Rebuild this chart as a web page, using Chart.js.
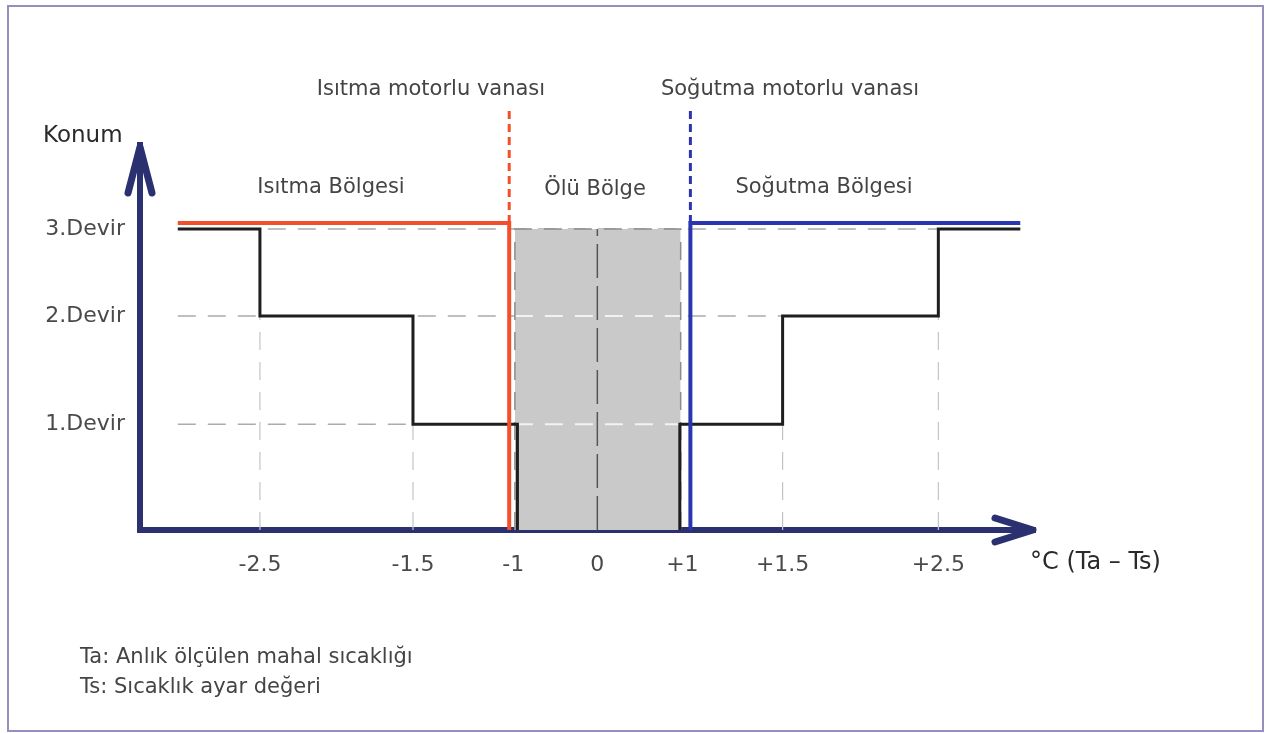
<!DOCTYPE html>
<html>
<head>
<meta charset="utf-8">
<script src="https://cdn.jsdelivr.net/npm/chart.js@4/dist/chart.umd.min.js"></script>
<style>
  html, body { margin: 0; padding: 0; background: #fff; }
  #wrap { position: relative; width: 1265px; height: 733px; }
  #frame { position: absolute; left: 7px; top: 5px; width: 1257px; height: 727px;
           box-sizing: border-box; border: 2px solid #948fbf; pointer-events: none; }
</style>
</head>
<body>
<div id="wrap">
  <canvas id="diagram" width="1265" height="733"></canvas>
  <div id="frame"></div>
</div>
<script>
// temperature axis (°C, Ta - Ts) ticks and labels
const xTicks = [-2.5, -1.5, -1, 0, 1, 1.5, 2.5];
const xTickLabels = ['-2.5', '-1.5', '-1', '0', '+1', '+1.5', '+2.5'];
// fan speed levels
const yTicks = [1, 2, 3];
const yTickLabels = ['1.Devir', '2.Devir', '3.Devir'];

// fan speed steps, heating side and cooling side
const heatStepX = [-3, -2.5, -1.5, -0.95];
const heatStepY = [3, 2, 1, 0];
const coolStepX = [0.97, 1.5, 2.5, 3];
const coolStepY = [0, 1, 2, 3];

// motorised valves (open line) and the dashed marker above them
const heatValveX = [-3, -1.02, -1.02];
const heatValveY = [3.07, 3.07, 0];
const coolValveX = [3, 1.04, 1.04];
const coolValveY = [3.07, 3.07, 0];
const valveMarkTop = 4.42;

// dead band
const deadBandX = [-0.98, 0.98];
const deadBandTop = 3;

// dashed helper lines
const gridStartX = -3;
const gridLevels = [1, 2, 3];
const gridLevelEnds = [1.5, 2.5, 3];
const gridMarksX = [-2.5, -1.5, 1.5, 2.5];
const gridMarksTop = [2, 1, 1, 2];
const zeroMarkTop = 3;

// the drawing is schematic, the axes are not to scale:
// each axis maps values to a fraction of its length through a small table
const axisStops = {
  x: { values: [-3.23, -2.5, -1.5, -1, 0, 1, 1.5, 2.5, 3.09],
       at: [0, 0.134, 0.305, 0.417, 0.511, 0.606, 0.718, 0.892, 1] },
  y: { values: [0, 1, 2, 3, 4],
       at: [0, 0.275, 0.556, 0.782, 1] }
};

function lerpTable(v, from, to) {
  let i = 1;
  while (i < from.length - 1 && v > from[i]) i++;
  const t = (v - from[i - 1]) / (from[i] - from[i - 1]);
  return to[i - 1] + t * (to[i] - to[i - 1]);
}

class SchematicScale extends Chart.LinearScale {
  getPixelForValue(value) {
    const s = axisStops[this.id];
    return this.getPixelForDecimal(lerpTable(value, s.values, s.at));
  }
  getValueForPixel(pixel) {
    const s = axisStops[this.id];
    return lerpTable(this.getDecimalForPixel(pixel), s.at, s.values);
  }
}
SchematicScale.id = 'schematic';
SchematicScale.defaults = Chart.LinearScale.defaults;
Chart.register(SchematicScale);

const pts = (xs, ys) => xs.map((x, i) => ({ x: x, y: ys[i] }));

const NAVY = '#2b3170';
const RED = '#f2502a';
const BLUE = '#2a35b0';
const INK = '#1e1e1e';
const GRID = '#ababab';

const datasets = [];

// steps
datasets.push({ data: pts(heatStepX, heatStepY), stepped: 'before',
  borderColor: INK, borderWidth: 3, order: 3 });
datasets.push({ data: pts(coolStepX, coolStepY), stepped: 'after',
  borderColor: INK, borderWidth: 3, order: 3 });

// valves
datasets.push({ data: pts(heatValveX, heatValveY), borderColor: RED, borderWidth: 4, order: 2 });
datasets.push({ data: pts([heatValveX[1], heatValveX[1]], [heatValveY[1], valveMarkTop]),
  borderColor: RED, borderWidth: 3, borderDash: [8, 5], order: 2 });
datasets.push({ data: pts(coolValveX, coolValveY), borderColor: BLUE, borderWidth: 4, order: 2 });
datasets.push({ data: pts([coolValveX[1], coolValveX[1]], [coolValveY[1], valveMarkTop]),
  borderColor: BLUE, borderWidth: 3, borderDash: [8, 5], order: 2 });

// dead band: fill, dashed outline, white level dashes, zero line
datasets.push({ data: pts(deadBandX, [deadBandTop, deadBandTop]), fill: 'origin',
  backgroundColor: '#c9c9c9', borderWidth: 0, order: 11 });
datasets.push({ data: pts([deadBandX[0], deadBandX[0], deadBandX[1], deadBandX[1]],
  [0, deadBandTop, deadBandTop, 0]),
  borderColor: '#8c8c8c', borderWidth: 1.5, borderDash: [18, 12], order: 10 });
[1, 2].forEach(function (lvl) {
  datasets.push({ data: pts(deadBandX, [lvl, lvl]), borderColor: '#f2f2f2',
    borderWidth: 2, borderDash: [18, 12], order: 10 });
});
datasets.push({ data: pts([0, 0], [0, zeroMarkTop]), borderColor: '#555',
  borderWidth: 1.5, borderDash: [34, 8], order: 9 });

// helper grid
gridLevels.forEach(function (lvl, i) {
  datasets.push({ data: pts([gridStartX, gridLevelEnds[i]], [lvl, lvl]),
    borderColor: GRID, borderWidth: 1.5, borderDash: [18, 12], order: 12 });
});
gridMarksX.forEach(function (x, i) {
  datasets.push({ data: pts([x, x], [0, gridMarksTop[i]]),
    borderColor: '#c4c4c4', borderWidth: 1.2, borderDash: [18, 12], order: 12 });
});

datasets.forEach(function (d) {
  d.pointRadius = 0;
  d.clip = false;
  d.borderJoinStyle = 'miter';
  if (d.fill === undefined) d.fill = false;
});

const FONT = 'DejaVu Sans';

const sketchExtras = {
  id: 'sketchExtras',
  afterDraw(chart) {
    const ctx = chart.ctx;
    const a = chart.chartArea;
    ctx.save();
    // arrow heads on the axes
    ctx.strokeStyle = NAVY;
    ctx.lineWidth = 7;
    ctx.lineCap = 'round';
    ctx.lineJoin = 'round';
    ctx.beginPath();
    ctx.moveTo(a.left - 12, a.top + 48);
    ctx.lineTo(a.left, a.top + 2);
    ctx.lineTo(a.left + 12, a.top + 48);
    ctx.moveTo(a.right - 40, a.bottom - 12);
    ctx.lineTo(a.right - 2, a.bottom);
    ctx.lineTo(a.right - 40, a.bottom + 12);
    ctx.stroke();

    // labels
    ctx.textBaseline = 'middle';
    ctx.fillStyle = '#444';
    ctx.font = '21px "' + FONT + '"';
    ctx.textAlign = 'center';
    ctx.fillText('Isıtma motorlu vanası', 431, 90);
    ctx.fillText('Soğutma motorlu vanası', 790, 90);
    ctx.fillText('Isıtma Bölgesi', 331, 188);
    ctx.fillText('Ölü Bölge', 595, 190);
    ctx.fillText('Soğutma Bölgesi', 824, 188);

    ctx.textAlign = 'left';
    ctx.fillText('Ta: Anlık ölçülen mahal sıcaklığı', 80, 658);
    ctx.fillText('Ts: Sıcaklık ayar değeri', 80, 688);

    ctx.fillStyle = '#2a2a2a';
    ctx.font = '23px "' + FONT + '"';
    ctx.fillText('Konum', 43, 136);
    ctx.font = '24px "' + FONT + '"';
    ctx.fillText('°C (Ta – Ts)', 1030, 563);
    ctx.restore();
  }
};

new Chart(document.getElementById('diagram'), {
  type: 'line',
  data: { datasets: datasets },
  options: {
    responsive: false,
    animation: false,
    layout: { padding: { left: 0, top: 145, right: 230, bottom: 0 } },
    plugins: { legend: { display: false }, tooltip: { enabled: false } },
    scales: {
      x: {
        type: 'schematic',
        min: axisStops.x.values[0],
        max: axisStops.x.values[axisStops.x.values.length - 1],
        grid: { display: false, drawTicks: false },
        border: { display: true, color: NAVY, width: 6 },
        afterBuildTicks: function (scale) { scale.ticks = xTicks.map(v => ({ value: v })); },
        afterFit: function (scale) { scale.height = 203; },
        ticks: {
          autoSkip: false, maxRotation: 0, padding: 22,
          color: '#4a4a4a', font: { family: FONT, size: 22 },
          callback: (v, i) => xTickLabels[i]
        }
      },
      y: {
        type: 'schematic',
        min: axisStops.y.values[0],
        max: axisStops.y.values[axisStops.y.values.length - 1],
        grid: { display: false, drawTicks: false },
        border: { display: true, color: NAVY, width: 6 },
        afterBuildTicks: function (scale) { scale.ticks = yTicks.map(v => ({ value: v })); },
        afterFit: function (scale) { scale.width = 140; },
        ticks: {
          autoSkip: false, padding: 15,
          color: '#4a4a4a', font: { family: FONT, size: 22 },
          callback: (v, i) => yTickLabels[i]
        }
      }
    }
  },
  plugins: [sketchExtras]
});
</script>
</body>
</html>
